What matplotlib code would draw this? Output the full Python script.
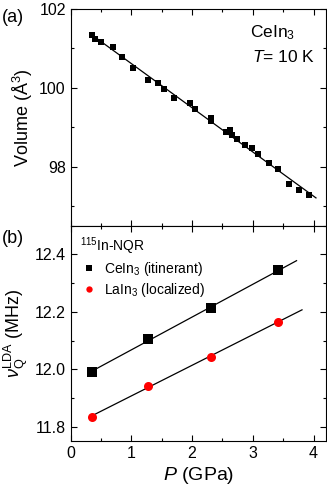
import matplotlib
matplotlib.use('Agg')
import matplotlib.pyplot as plt
import numpy as np
from matplotlib.ticker import MultipleLocator

plt.rcParams['font.family'] = ['Liberation Sans', 'DejaVu Sans']
plt.rcParams['mathtext.fontset'] = 'custom'
plt.rcParams['mathtext.rm'] = 'Liberation Sans'
plt.rcParams['mathtext.it'] = 'Liberation Sans:italic'
plt.rcParams['mathtext.bf'] = 'Liberation Sans:bold'

# (a) volume of CeIn3 vs pressure, T = 10 K
p_vol = [0.35, 0.40, 0.50, 0.69, 0.85, 1.02, 1.28, 1.44, 1.54, 1.71, 1.96, 2.05,
         2.31, 2.31, 2.56, 2.63, 2.65, 2.74, 2.87, 2.99, 3.08, 3.26, 3.42, 3.60,
         3.76, 3.93]
volume = [101.34, 101.25, 101.15, 101.04, 100.79, 100.51, 100.19, 100.11, 99.98,
          99.75, 99.62, 99.45, 99.24, 99.16, 98.88, 98.92, 98.80, 98.69, 98.54,
          98.47, 98.31, 98.08, 97.93, 97.57, 97.40, 97.27]
vol_fit_range = [0.32, 4.04]

# (b) NQR frequency (LDA)
p_nqr = [0.35, 1.28, 2.31, 3.42]
nu_ce = [11.99, 12.106, 12.214, 12.344]
nu_la = [11.835, 11.943, 12.043, 12.166]
ce_fit_range = [0.35, 3.72]
la_fit_range = [0.35, 3.81]

fig = plt.figure(figsize=(3.27, 4.91), dpi=100)
ax1 = fig.add_axes([0.216, 0.5403, 0.780, 0.4414])
ax2 = fig.add_axes([0.216, 0.1018, 0.780, 0.4385])

# top panel
c = np.polyfit(p_vol, volume, 1)
xf = np.array(vol_fit_range)
ax1.plot(xf, np.polyval(c, xf), color='black', lw=0.9)
ax1.plot(p_vol, volume, 's', color='black', ms=4.0, mew=0)
ax1.set_xlim(0, 4.2)
ax1.set_ylim(96.5, 102)
ax1.yaxis.set_major_locator(MultipleLocator(2))
ax1.yaxis.set_minor_locator(MultipleLocator(1))
ax1.set_ylabel('Volume (Å$^3$)', fontsize=13, labelpad=3)
ax1.text(0.702, 0.889, 'CeIn$_3$', transform=ax1.transAxes, ha='left', va='center',
         fontsize=12.5)
ax1.text(0.712, 0.778, '$T$= 10 K', transform=ax1.transAxes, ha='left',
         va='center', fontsize=12.5)
ax1.tick_params(labelbottom=False)

# bottom panel
for nu, rng, mk, col, lab in [(nu_ce, ce_fit_range, 's', 'black', 'CeIn$_3$ (itinerant)'),
                              (nu_la, la_fit_range, 'o', 'red', 'LaIn$_3$ (localized)')]:
    c = np.polyfit(p_nqr, nu, 1)
    xf = np.array(rng)
    ax2.plot(xf, np.polyval(c, xf), color='black', lw=0.9)
    ax2.plot(p_nqr, nu, mk, color=col, ms=6.5, mew=0, label=lab)
ax2.set_xlim(0, 4.2)
ax2.set_ylim(11.75, 12.5)
ax2.yaxis.set_major_locator(MultipleLocator(0.2))
ax2.yaxis.set_minor_locator(MultipleLocator(0.1))
ax2.set_ylabel(r'$\nu_{\rm Q}^{\rm LDA}$ (MHz)', fontsize=13, labelpad=3)
ax2.set_xlabel('$P$ (GPa)', fontsize=14, labelpad=3)
leg = ax2.legend(loc='upper left', title='$^{115}$In-NQR', frameon=False,
                 fontsize=10, title_fontsize=10, handletextpad=0.4,
                 handlelength=1.3, borderaxespad=0.3, labelspacing=0.2,
                 markerscale=0.7)
leg._legend_box.align = 'left'

for ax in (ax1, ax2):
    ax.xaxis.set_major_locator(MultipleLocator(1))
    ax.xaxis.set_minor_locator(MultipleLocator(0.5))
    ax.tick_params(which='both', direction='in', top=True, right=True,
                   labelsize=11.5, width=0.8)
    ax.tick_params(which='major', length=4)
    ax.tick_params(which='minor', length=2.5)
    for s in ax.spines.values():
        s.set_linewidth(0.8)

fig.text(0.005, 0.955, '(a)', fontsize=13)
fig.text(0.005, 0.505, '(b)', fontsize=13)

fig.savefig('out.png', dpi=100)
